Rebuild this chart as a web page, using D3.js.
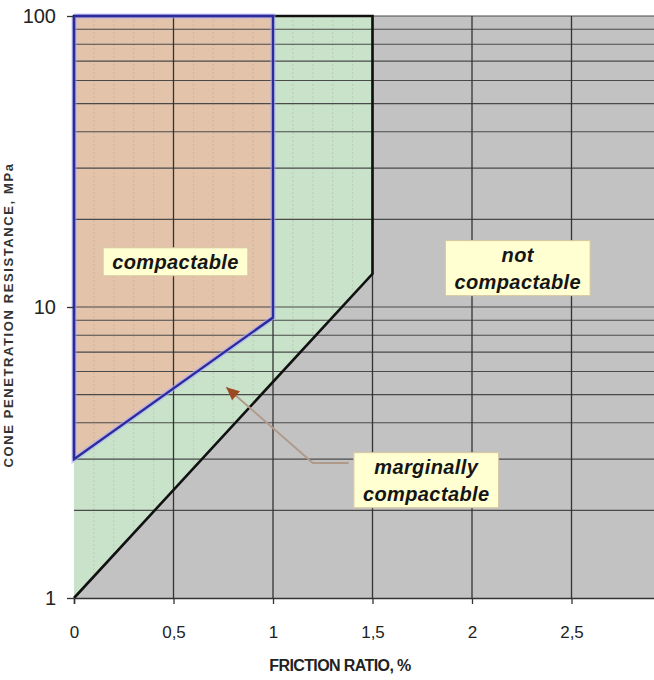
<!DOCTYPE html>
<html>
<head>
<meta charset="utf-8">
<script src="https://cdn.jsdelivr.net/npm/d3@7"></script>
<style>
  body { margin: 0; background: #fff; }
  svg { display: block; font-family: "Liberation Sans", Arial, sans-serif; }
</style>
</head>
<body>
<script>
// zone boundaries (friction ratio %, cone resistance)
const compactableX = [0, 1, 1, 0]
const compactableY = [3, 9.2, 100, 100]
const marginalX = [0, 1.5, 1.5, 1, 1, 0]
const marginalY = [1, 13, 100, 100, 9.2, 3]
const blueLineX = [0, 0, 1, 1, 0]
const blueLineY = [100, 3, 9.2, 100, 100]
const blackLineX = [0, 1.5, 1.5, 1, 0, 0]
const blackLineY = [1, 13, 100, 100, 100, 3]

const xTicks = [0, 0.5, 1, 1.5, 2, 2.5]
const xTickLabels = ["0", "0,5", "1", "1,5", "2", "2,5"]
const yTicks = [1, 10, 100]
const yTickLabels = ["1", "10", "100"]

const labels = [
    { lines: ["compactable"], x: 0.51, y: 14.3 },
    { lines: ["not", "compactable"], x: 2.23, y: 13.6 },
    { lines: ["marginally", "compactable"], x: 1.77, y: 2.54 }
]

const arrowX = [1.38, 1.2, 0.765]
const arrowY = [2.91, 2.91, 5.3]

const width = 654
const height = 680

const x = d3.scaleLinear().domain([0, 3]).range([74, 671])
const y = d3.scaleLog().domain([1, 100]).range([598, 16])

const svg = d3.select("body").append("svg")
    .attr("width", width)
    .attr("height", height)

const pts = (xs, ys) => xs.map((v, i) => [x(v), y(ys[i])])
const line = d3.line()

// gray background of plot
svg.append("rect")
    .attr("x", x(0)).attr("y", y(100))
    .attr("width", x(3) - x(0)).attr("height", y(1) - y(100))
    .attr("fill", "#c2c2c2")

svg.append("path").attr("d", line(pts(marginalX, marginalY)) + "Z").attr("fill", "#c8e3c9")
svg.append("path").attr("d", line(pts(compactableX, compactableY)) + "Z").attr("fill", "#e3c3aa")

// faint minor vertical grid, only inside the coloured zones
svg.append("clipPath").attr("id", "zones")
    .append("path").attr("d", line(pts(marginalX, marginalY)) + "Z" + line(pts(compactableX, compactableY)) + "Z")
const minorX = d3.range(1, 15).map(d => d / 10).filter(d => d !== 0.5 && d !== 1)
svg.append("g").attr("clip-path", "url(#zones)").selectAll("line")
    .data(minorX)
    .join("line")
    .attr("x1", d => x(d)).attr("x2", d => x(d))
    .attr("y1", y(100)).attr("y2", y(1))
    .attr("stroke", "#8a7a70")
    .attr("stroke-opacity", 0.2)
    .attr("stroke-dasharray", "2,2")

// horizontal grid at every log tick
const yGrid = y.ticks().filter(d => d > 1 && d <= 100)
svg.append("g").selectAll("line")
    .data(yGrid)
    .join("line")
    .attr("x1", x(0)).attr("x2", width)
    .attr("y1", d => y(d)).attr("y2", d => y(d))
    .attr("stroke", "#4a4a4a")
    .attr("stroke-width", 1.1)

// vertical major grid
svg.append("g").selectAll("line")
    .data(xTicks.filter(d => d > 0))
    .join("line")
    .attr("x1", d => x(d)).attr("x2", d => x(d))
    .attr("y1", y(100)).attr("y2", y(1))
    .attr("stroke", "#333")
    .attr("stroke-width", 1.3)

// zone boundaries
svg.append("path")
    .attr("d", line(pts(blackLineX, blackLineY)))
    .attr("fill", "none")
    .attr("stroke", "#111")
    .attr("stroke-width", 2.6)
svg.append("path")
    .attr("d", line(pts(blueLineX, blueLineY)))
    .attr("fill", "none")
    .attr("stroke", "#a8a8ff")
    .attr("stroke-width", 5)
    .attr("stroke-opacity", 0.6)
svg.append("path")
    .attr("d", line(pts(blueLineX, blueLineY)))
    .attr("fill", "none")
    .attr("stroke", "#2b2b9c")
    .attr("stroke-width", 2.4)

// axes
const xAxis = svg.append("g")
    .attr("transform", `translate(0,${y(1)})`)
    .call(d3.axisBottom(x).tickValues(xTicks).tickSize(6).tickPadding(22)
        .tickFormat((d, i) => xTickLabels[i]))
xAxis.select(".domain").attr("stroke", "#333").attr("stroke-width", 1.5)
xAxis.selectAll(".tick line").attr("stroke", "#333").attr("stroke-width", 1.3)
xAxis.selectAll(".tick text").attr("font-size", 17).attr("fill", "#222")

const yAxis = svg.append("g")
    .attr("transform", `translate(${x(0)},0)`)
    .call(d3.axisLeft(y).tickValues(yTicks).tickSize(7).tickPadding(11)
        .tickFormat((d, i) => yTickLabels[i]))
yAxis.select(".domain").remove()
yAxis.selectAll(".tick line").attr("stroke", "#333").attr("stroke-width", 1.3)
yAxis.selectAll(".tick text").attr("font-size", 20).attr("fill", "#222")

svg.append("text")
    .attr("x", 340).attr("y", 671)
    .attr("text-anchor", "middle")
    .attr("font-size", 16)
    .attr("font-weight", "bold")
    .attr("letter-spacing", -0.6)
    .attr("fill", "#222")
    .text("FRICTION RATIO, %")

svg.append("text")
    .attr("transform", "translate(13,315) rotate(-90)")
    .attr("text-anchor", "middle")
    .attr("font-size", 13)
    .attr("font-weight", "bold")
    .attr("letter-spacing", 1.6)
    .attr("fill", "#333")
    .text("CONE PENETRATION RESISTANCE, MPa")

// arrow for marginally compactable
svg.append("path")
    .attr("d", line(pts(arrowX, arrowY)))
    .attr("fill", "none")
    .attr("stroke", "#b09a8a")
    .attr("stroke-width", 2)
const n = arrowX.length - 1
const tip = [x(arrowX[n]), y(arrowY[n])]
const ang = Math.atan2(y(arrowY[n - 1]) - tip[1], x(arrowX[n - 1]) - tip[0])
const ah = 13, aw = 6
const bx = tip[0] + ah * Math.cos(ang), by = tip[1] + ah * Math.sin(ang)
svg.append("path")
    .attr("d", `M${tip[0]},${tip[1]} L${bx - aw * Math.sin(ang)},${by + aw * Math.cos(ang)} L${bx + aw * Math.sin(ang)},${by - aw * Math.cos(ang)} Z`)
    .attr("fill", "#9c4a22")

// label boxes
labels.forEach(lb => {
    const g = svg.append("g")
    const cx = x(lb.x), cy = y(lb.y)
    const lh = 27
    const t = g.append("text")
        .attr("text-anchor", "middle")
        .attr("font-size", 20)
        .attr("font-weight", "bold")
        .attr("font-style", "italic")
        .attr("letter-spacing", 0.4)
        .attr("fill", "#151515")
    lb.lines.forEach((s, i) => {
        t.append("tspan")
            .attr("x", cx)
            .attr("y", cy + (i - (lb.lines.length - 1) / 2) * lh + 7)
            .text(s)
    })
    const bb = t.node().getBBox()
    g.insert("rect", "text")
        .attr("x", bb.x - 9).attr("y", bb.y - 3)
        .attr("width", bb.width + 18).attr("height", bb.height + 6)
        .attr("fill", "#ffffd2")
        .attr("stroke", "#d8c8a0")
        .attr("stroke-width", 1)
})
</script>
</body>
</html>
